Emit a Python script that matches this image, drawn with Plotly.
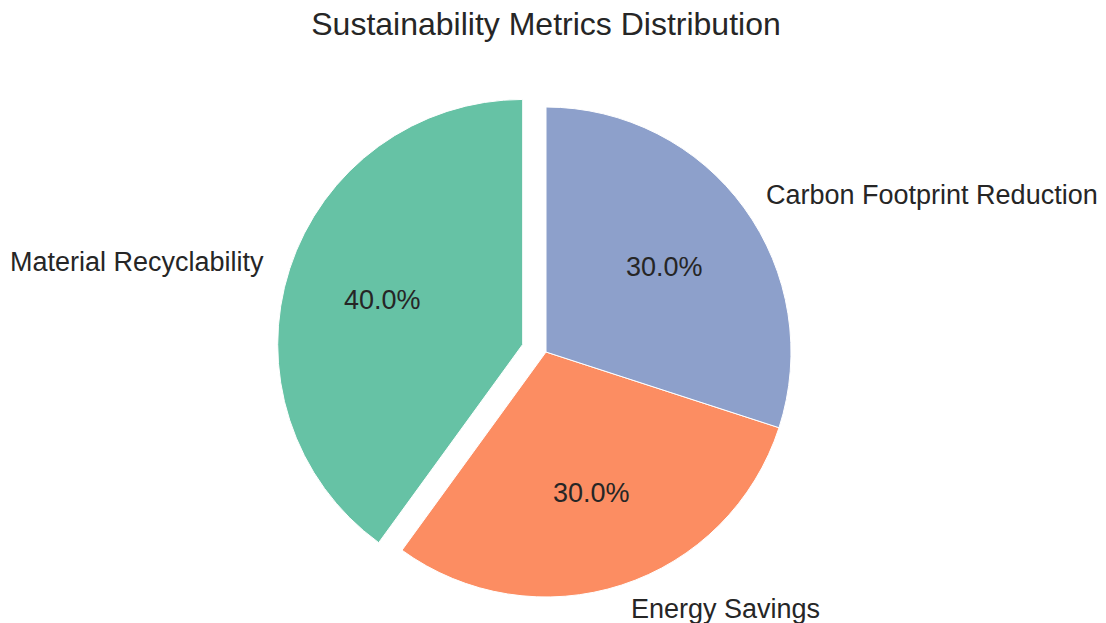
import math
import plotly.graph_objects as go

# ---- data ----
categories = ["Material Recyclability", "Energy Savings", "Carbon Footprint Reduction"]
values = [40, 30, 30]
colors = ["#66c2a5", "#fc8d62", "#8da0cb"]
explode = [0.1, 0, 0]
title_text = "Sustainability Metrics Distribution"

# ---- layout geometry (pixels) ----
W, H = 1106, 623
CX, CY, R = 546, 352, 245
TEXT_DY = 1
max_pull = max(explode)
half = R * (1 + max_pull)
dom_x = [(CX - half) / W, (CX + half) / W]
dom_y = [1 - (CY + half) / H, 1 - (CY - half) / H]

TEXT_COLOR = "#262626"
FONT = "Liberation Sans, Arial, sans-serif"

total = sum(values)
# start first wedge at 12 o'clock, going counterclockwise (matplotlib startangle=90)
rotation = -360.0 * values[0] / total

fig = go.Figure()
fig.add_trace(go.Pie(
    labels=categories,
    values=values,
    marker=dict(colors=colors, line=dict(color="white", width=1)),
    pull=explode,
    sort=False,
    direction="counterclockwise",
    rotation=rotation,
    textinfo="none",
    showlegend=False,
    domain=dict(x=dom_x, y=dom_y),
    hoverinfo="label+percent",
))

def px2paper(x, y):
    return x / W, 1 - y / H

start = 90.0
annotations = []
for cat, v, ex in zip(categories, values, explode):
    span = 360.0 * v / total
    mid = math.radians(start + span / 2)
    start += span
    ccx = CX + ex * R * math.cos(mid)
    ccy = CY - ex * R * math.sin(mid)
    # label at 1.1 r
    lx = ccx + 1.1 * R * math.cos(mid)
    ly = ccy - 1.1 * R * math.sin(mid) + TEXT_DY
    px_, py_ = px2paper(lx, ly)
    annotations.append(dict(
        x=px_, y=py_, xref="paper", yref="paper", text=cat, showarrow=False,
        xanchor="left" if math.cos(mid) > 0 else "right", yanchor="middle",
        font=dict(size=27, color=TEXT_COLOR, family=FONT),
    ))
    # percentage at 0.6 r
    tx = ccx + 0.6 * R * math.cos(mid)
    ty = ccy - 0.6 * R * math.sin(mid) + TEXT_DY
    px_, py_ = px2paper(tx, ty)
    annotations.append(dict(
        x=px_, y=py_, xref="paper", yref="paper",
        text=f"{100.0 * v / total:.1f}%", showarrow=False,
        xanchor="center", yanchor="middle",
        font=dict(size=27, color=TEXT_COLOR, family=FONT),
    ))

fig.update_layout(
    width=W, height=H,
    margin=dict(l=0, r=0, t=0, b=0),
    paper_bgcolor="white", plot_bgcolor="white",
    title=dict(text=title_text, x=546 / W, xanchor="center",
               y=1 - 24 / H, yanchor="middle", yref="container",
               font=dict(size=32, color=TEXT_COLOR, family=FONT)),
    annotations=annotations,
)

fig.write_html(
    "out.html",
    config={"displayModeBar": False},
    post_script="document.body.style.margin='0';document.body.style.overflow='hidden';",
)
